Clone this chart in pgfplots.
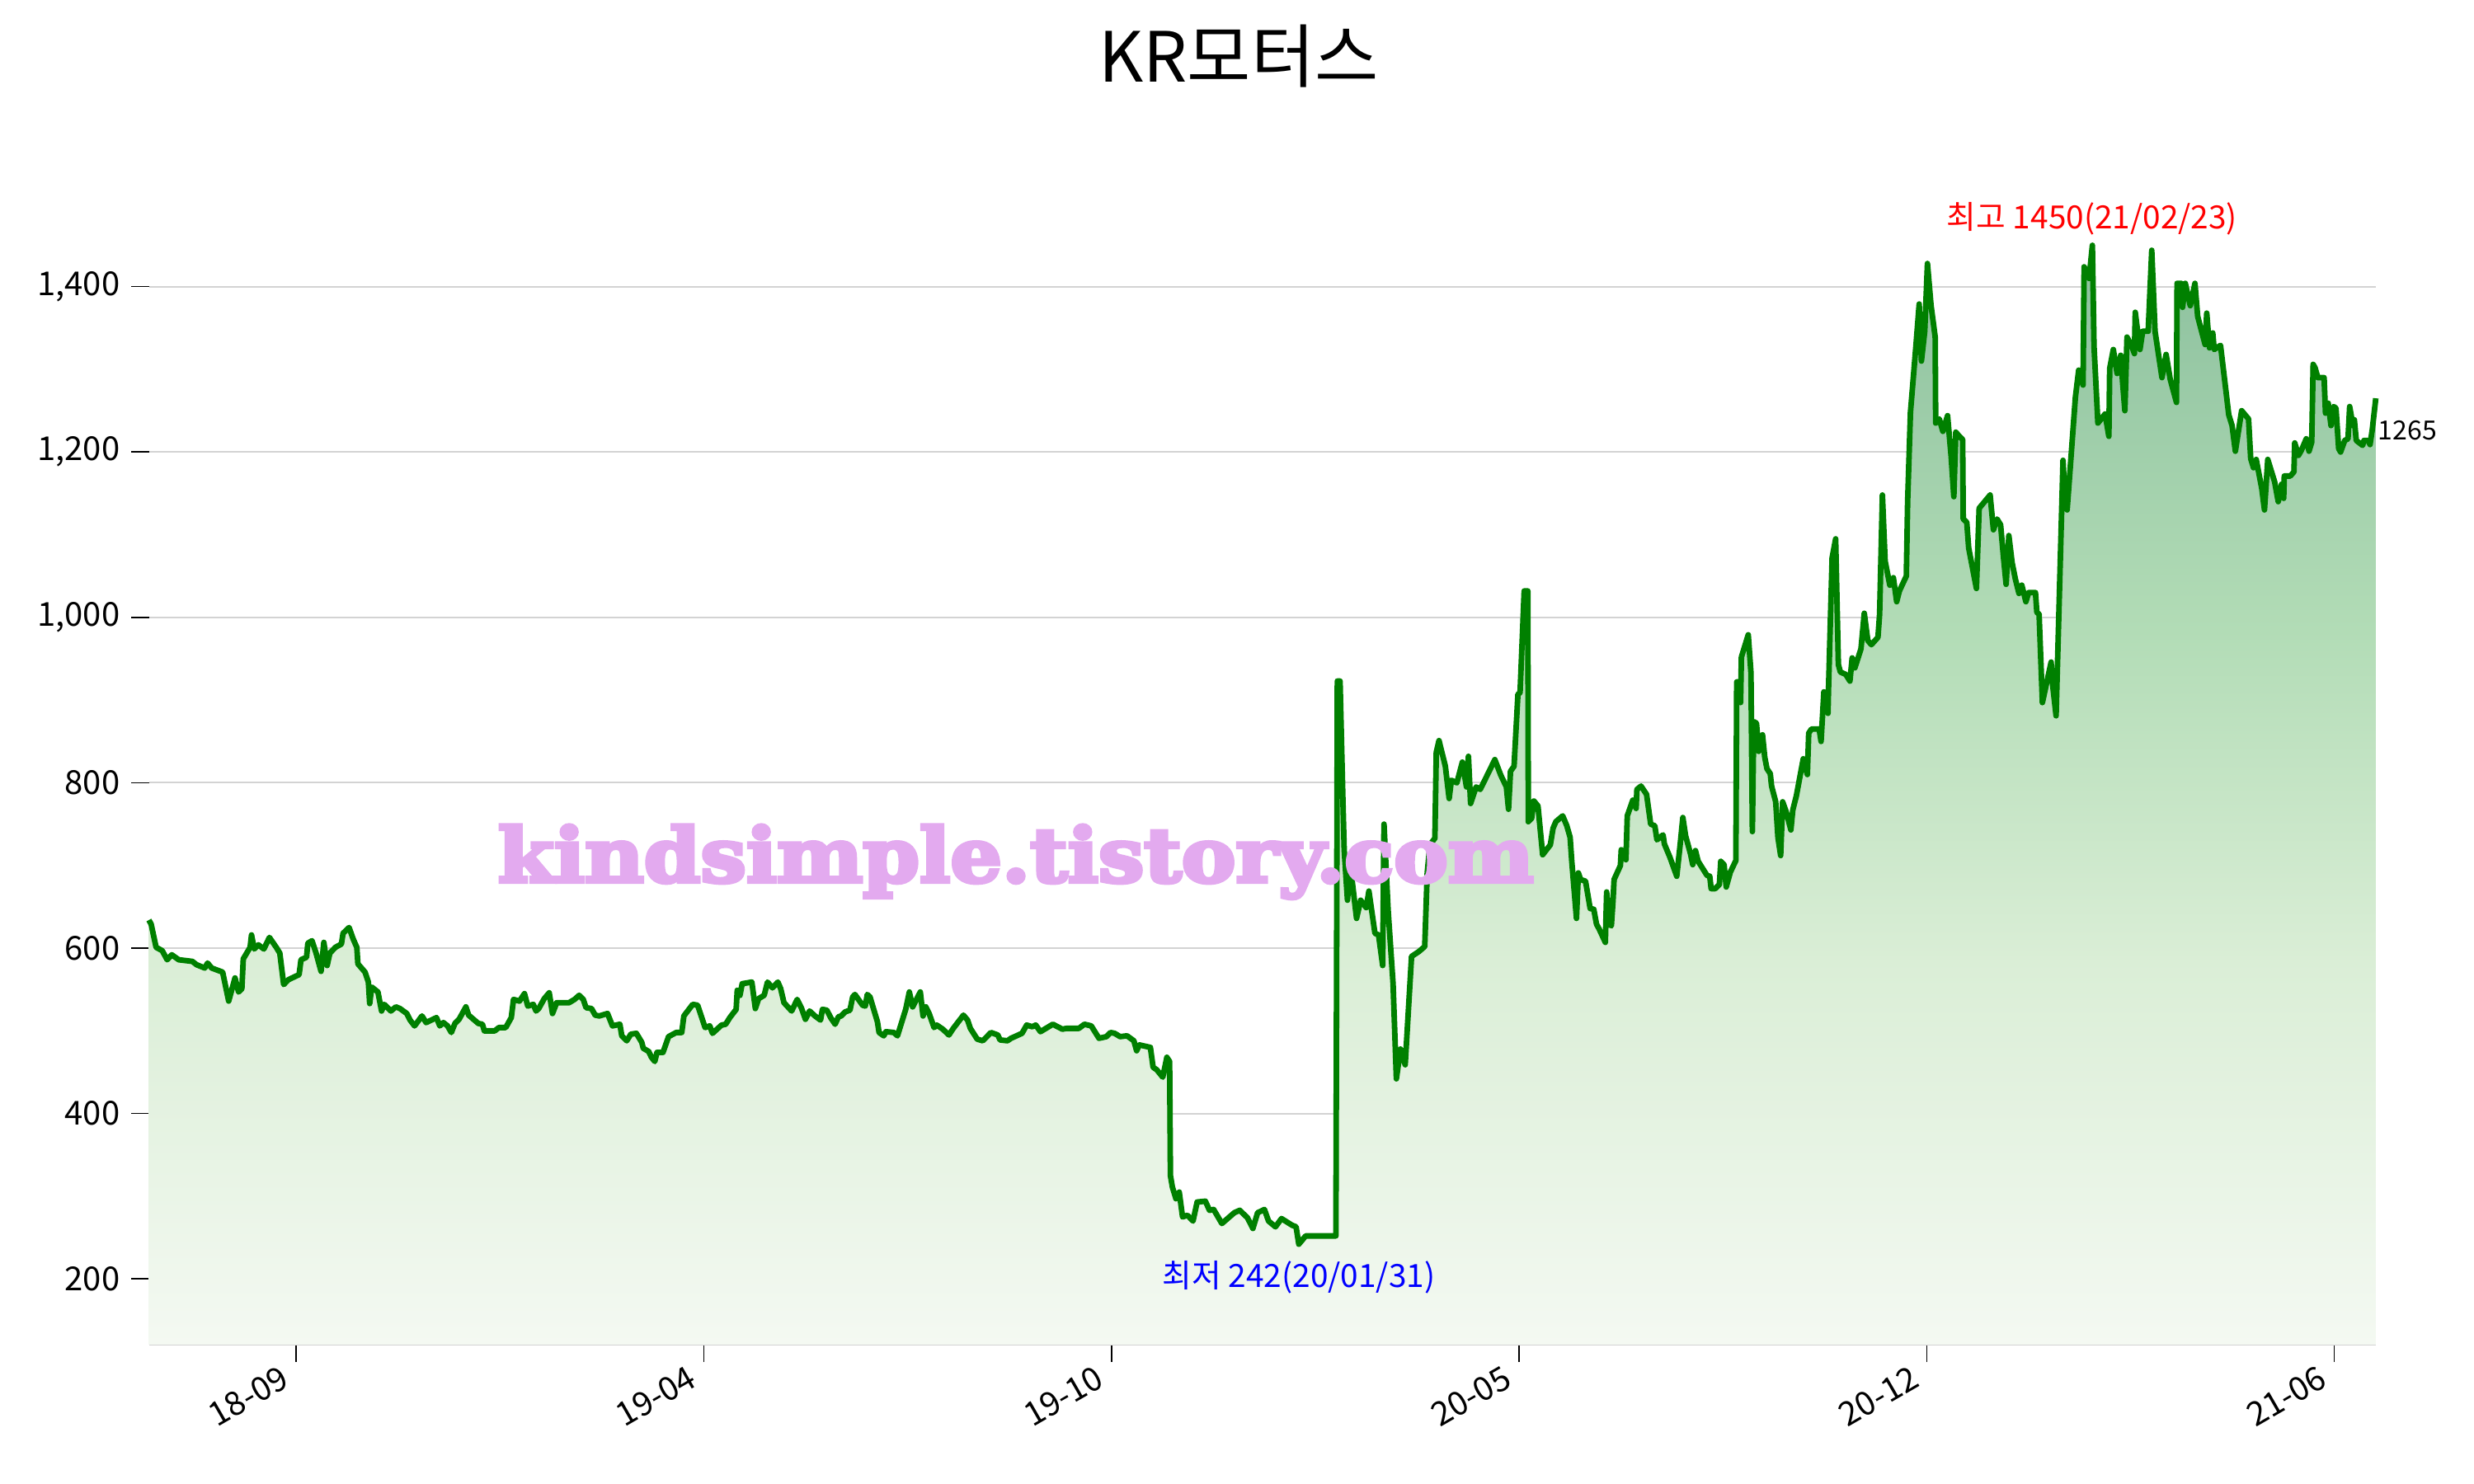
\documentclass[border=0pt]{standalone}
\usepackage{fontspec}
\setmainfont{Noto Sans CJK KR}
\newfontfamily\wmfont{DejaVu Serif}[BoldFeatures={FakeBold=5}]
\usepackage{graphicx}
\usepackage{pgfplots}
\usepackage{pgfplotstable}
\pgfplotsset{compat=1.18}
\usepgfplotslibrary{fillbetween}

\definecolor{lineG}{RGB}{0,128,0}
\definecolor{gridC}{RGB}{211,211,211}
\definecolor{wm}{RGB}{227,170,239}
\definecolor{fadeB}{RGB}{244,249,242}
\definecolor{fadeMa}{RGB}{218,238,214}
\definecolor{fadeMb}{RGB}{178,220,182}
\definecolor{fadeT}{RGB}{140,192,158}
\pgfdeclareverticalshading{greenfade}{100bp}{color(0bp)=(fadeB); color(25bp)=(fadeB); color(42.5bp)=(fadeMa); color(57.5bp)=(fadeMb); color(75bp)=(fadeT); color(100bp)=(fadeT)}

\pgfplotstableread{
x y
180.5 634
183.3 629
189.3 601
196.7 597
202.7 586
208.3 592
216.7 586
233.3 584
238.3 580
248.3 576
251.7 582
256.7 576
270 571
277.3 536
285 564
289.3 547
293.3 551
295 587
303.3 601
305 616
308.3 599
313.3 604
320 599
326.7 613
335 601
339.3 594
344 556
350 562
362.7 568
365 586
371.7 589
373.3 606
378.3 609
383.3 594
389.3 572
392.7 607
396.7 579
400 594
406.7 601
414 605
416 618
423.3 625
428.3 611
432.7 601
434 581
442.7 571
446.7 559
448.3 533
450.7 553
458.3 547
462.7 524
466 532
474 524
480 529
485 527
493.3 521
497.3 513
502.7 506
511.7 518
516.7 510
529.3 516
533.3 506
537.7 510
542.7 506
547.3 498
551.7 509
556.7 514
565 529
568.3 519
580 509
585 508
587.3 500
600 500
605 504
613.3 504
620 516
622.7 538
630 536
636 545
640 530
646.7 532
650 524
653.3 527
660 539
666 546
670 521
675 534
690 534
696.7 538
702.3 543
707.3 538
710.7 528
717.3 527
721.7 519
726.7 518
736.7 521
742.7 506
751.7 508
754 494
760 488
765 496
771.7 497
778.3 486
780 479
786.7 475
790 468
794 463
796.7 474
804 474
810.7 493
820 498
826.7 498
829.3 518
840 532
846 531
855 504
860.7 506
864 497
875 507
880 508
885 516
892.7 526
894 549
897.3 543
900 557
911.7 559
916 527
920 539
926.7 543
930.7 559
936.7 552
943.3 559
946.7 551
950.7 534
960 524
966.7 538
971.7 528
976.7 514
981.7 524
988.3 518
995 513
997.3 526
1002.7 525
1007.3 516
1012.7 508
1016.7 517
1020 518
1025 523
1030.7 525
1034 541
1036.7 544
1046 531
1049.3 530
1051.7 544
1055 541
1064 511
1066 498
1071.7 494
1074.3 499
1084 498
1088.3 494
1098.3 526
1102.7 547
1106.7 529
1116 547
1119.3 518
1122.7 529
1126.7 521
1132.7 504
1136 507
1143.3 502
1150.7 495
1156 503
1168.3 519
1173.3 513
1176.7 503
1185 490
1191.7 488
1201.7 498
1210 495
1212.7 489
1221.7 488
1226 491
1239.3 497
1245 507
1251.7 505
1256 507
1261.7 499
1276.7 508
1288.3 502
1293.3 503
1308.3 503
1315 508
1323.3 506
1332.7 491
1341.7 493
1346.7 498
1351.7 497
1358.3 493
1366.7 494
1375 488
1378.3 476
1381.7 483
1395 480
1398.3 456
1402.7 453
1410 444
1415 468
1418.3 463
1419.3 325
1421.7 311
1426 297
1430 305
1434 275
1440 277
1446.7 270
1451.7 293
1461.7 294
1466.7 283
1471.7 284
1481.7 267
1496.7 280
1503.3 283
1512.7 274
1519.3 261
1525 280
1533.3 284
1538.3 270
1546.7 263
1554 273
1566.7 265
1571.7 263
1575 242
1583.3 252
1620 252
1621.7 923
1625 923
1628.3 786
1630 719
1634 658
1637.3 702
1645 636
1650 658
1656.7 649
1660 669
1667.3 618
1671.7 616
1676.7 579
1678.3 750
1683.3 646
1689.3 557
1693.3 442
1698.3 478
1704 459
1711.7 590
1720.7 596
1727.7 602
1730.7 691
1734 725
1740 733
1741.7 837
1745 851
1752.7 820
1757.3 781
1760 803
1766.7 800
1773.3 825
1778.3 795
1780.7 832
1783.3 775
1790 795
1795 792
1812.7 828
1820 809
1826.7 795
1829.3 768
1831.7 814
1836 820
1840.7 907
1843.3 909
1848.3 1032
1852.7 1032
1853.3 753
1857.3 757
1860 778
1865 772
1870.7 713
1880 725
1883.3 745
1886.7 753
1895 760
1900 748
1904 734
1906 705
1911.7 636
1914 691
1916.7 683
1922.7 681
1928.3 648
1932.7 647
1936 629
1939.3 623
1946.7 607
1948.3 668
1951.7 629
1954 627
1956 657
1957.3 683
1965 700
1966 719
1971.7 707
1973.3 760
1980 779
1984 769
1985 792
1990 796
1996.7 786
2001.7 750
2006.7 748
2009.3 731
2016.7 737
2018.3 726
2025 710
2033.3 687
2037.3 724
2040.7 758
2044 736
2050 714
2052.7 701
2056 718
2059.3 705
2070 688
2073.3 687
2075 672
2080 672
2085 677
2086.7 705
2090.7 701
2093.3 674
2098.3 692
2105 706
2106 922
2109.3 922
2110.7 897
2111.7 952
2120 979
2123.3 933
2125 741
2126.7 874
2130 872
2132.7 838
2137.3 858
2140 831
2142.7 817
2146.7 811
2148.3 796
2153.3 777
2156 734
2159.3 712
2161.7 777
2166 765
2171.7 743
2174 767
2178.3 784
2186.7 829
2191.7 810
2193.3 860
2196.7 865
2206 865
2208.3 850
2211.7 910
2216.7 884
2217.3 912
2221.7 1072
2226 1095
2229.3 943
2231.7 934
2238.3 931
2243.3 923
2246 951
2249.3 939
2256.7 962
2260.7 1005
2265 972
2269.3 967
2277.3 976
2279.3 1004
2282.7 1148
2286 1068
2291.7 1039
2296 1048
2300 1019
2303.3 1032
2311.7 1050
2313.3 1141
2316.7 1248
2323.3 1328
2327.3 1379
2330 1310
2334 1346
2337.3 1428
2341.7 1377
2346.7 1339
2347.3 1235
2351.7 1240
2356 1225
2361.7 1244
2366 1195
2369.3 1146
2371.7 1224
2376 1219
2380 1215
2380.7 1119
2385 1115
2387.3 1084
2396.7 1035
2400 1132
2413.3 1148
2417.3 1106
2421.7 1119
2426 1112
2429.3 1075
2432.7 1040
2436 1099
2440 1066
2444 1046
2448.3 1029
2451.7 1039
2456.7 1019
2460 1030
2468.3 1030
2470 1006
2472.7 1004
2476.7 897
2487.3 946
2488.3 926
2493.3 881
2501.7 1190
2504 1146
2506.7 1130
2516.7 1266
2520.7 1299
2526 1281
2527.3 1424
2533.3 1410
2537.3 1450
2539.3 1328
2544 1235
2552.7 1246
2557.3 1219
2558.3 1301
2562.7 1324
2567.3 1295
2571.7 1317
2574 1284
2576.7 1250
2579.3 1339
2585 1328
2588.3 1319
2589.3 1369
2595 1324
2598.3 1346
2605 1346
2609.3 1444
2613.3 1346
2621.7 1290
2626.7 1318
2631.7 1288
2639.3 1260
2640 1404
2645 1404
2646.7 1375
2650 1404
2656 1377
2661.7 1404
2665 1364
2674 1330
2676 1368
2679.3 1326
2683.3 1344
2685 1324
2692.7 1329
2698.3 1282
2702.7 1245
2706.7 1232
2710.7 1201
2718.3 1250
2726.7 1240
2729.3 1192
2732.7 1181
2736 1191
2742.7 1156
2746 1130
2750 1191
2758.3 1164
2762.7 1140
2766.7 1161
2769.3 1144
2770 1171
2777.3 1171
2781.7 1176
2782.7 1211
2787.3 1196
2790.7 1202
2796.7 1216
2800 1201
2803.3 1212
2805 1306
2807.3 1302
2810.7 1290
2818.3 1290
2820 1247
2823.3 1259
2826.7 1232
2830 1255
2832.7 1253
2836 1204
2838.3 1200
2843.3 1214
2847.3 1216
2849.3 1255
2853.3 1232
2855 1239
2857.3 1214
2865 1208
2866.7 1214
2871.7 1214
2874 1209
2876.7 1227
2881 1265
}\pricedata

\begin{document}
\begin{tikzpicture}
\begin{axis}[
  set layers,
  at={(45.125pt,42.25pt)}, anchor=south west,
  scale only axis, width=675.1pt, height=345.9pt,
  xmin=180.5, xmax=2881, ymin=120.5, ymax=1500,
  clip=false,
  axis lines*=left,
  x axis line style={draw=gridC, line width=0.7pt},
  y axis line style={draw=none},
  tick align=outside,
  major tick length=5.25pt,
  tick style={black, line width=0.4pt},
  xtick={359.2,853.5,1347.8,1842.1,2336.4,2830.7},
  xticklabels={18-09,19-04,19-10,20-05,20-12,21-06},
  ytick={200,400,...,1400},
  scaled y ticks=false,
  ymajorgrids,
  major grid style={draw=gridC, line width=0.5pt},
  /pgf/number format/assume math mode=true,
  /pgf/number format/1000 sep={,},
  tick label style={font=\fontsize{10}{12}\selectfont},
  xticklabel style={xshift=-4pt, yshift=4pt, rotate=30, anchor=north east},
]
\addplot[lineG, line width=1.7pt, line join=round, mark=none, name path=price] table {\pricedata};
\path[name path=base] (180.5,120.5) -- (2881,120.5);
\addplot[draw=none, shade, shading=greenfade, on layer=axis background] fill between[of=price and base];
\node[text=red, font=\fontsize{9.7}{11}\selectfont] at (2537,1482) {최고 1450(21/02/23)};
\node[text=blue, font=\fontsize{9.7}{11}\selectfont] at (1575,202) {최저 242(20/01/31)};
\node[anchor=west, inner sep=0.5pt, font=\fontsize{8}{9}\selectfont] at (2881,1226) {1265};
\node[anchor=base west, inner sep=0pt, text=wm] at (603,680) {\resizebox{314pt}{17.3pt}{\wmfont\bfseries kindsimple.tistory.com}};
\end{axis}
\node[anchor=base, font=\fontsize{21}{25}\selectfont] at (375.5pt,425pt) {KR모터스};
\path (0,0) rectangle (750pt,450pt);
\end{tikzpicture}
\end{document}
